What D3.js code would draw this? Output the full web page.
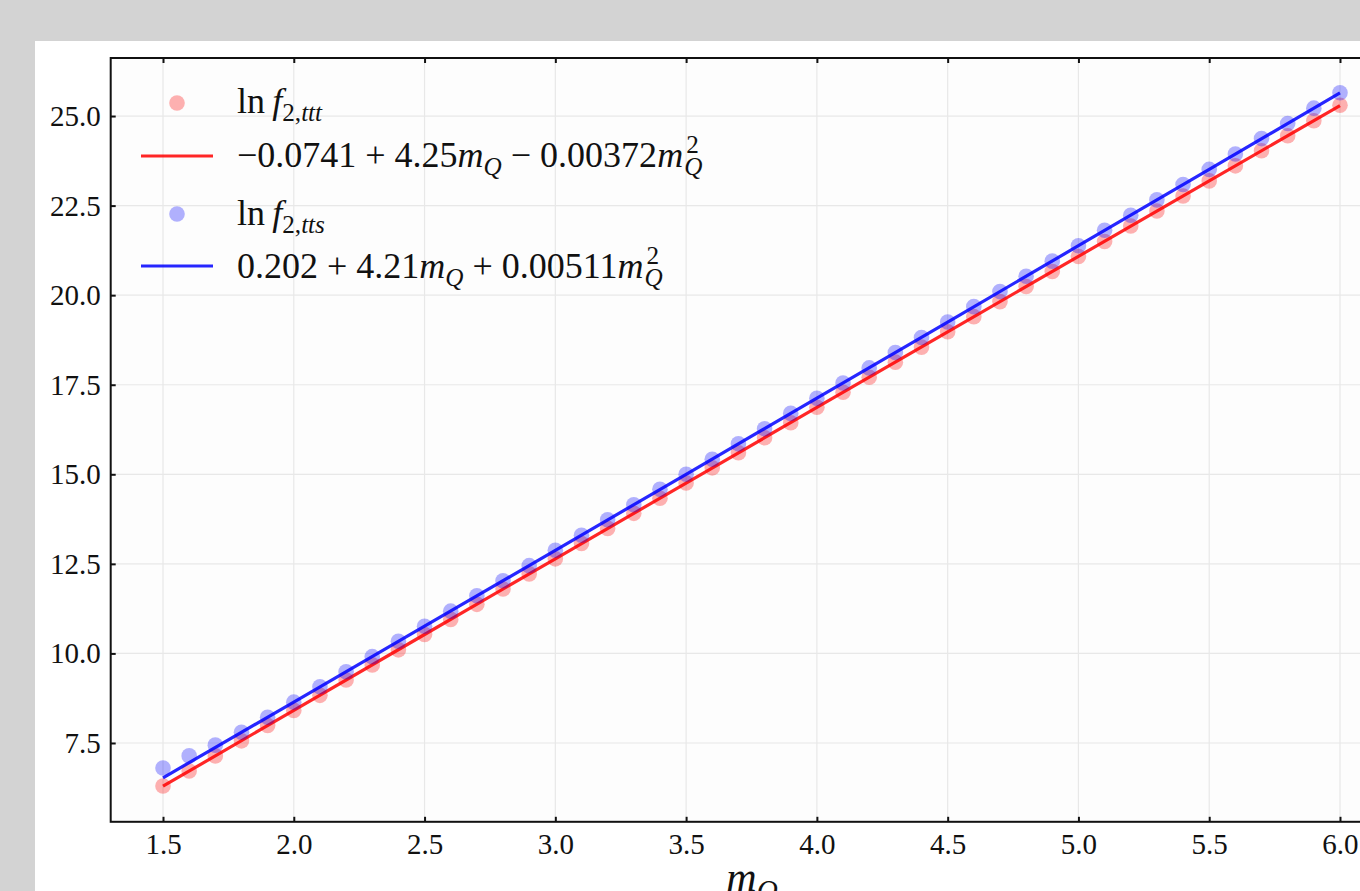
<!DOCTYPE html>
<html>
<head>
<meta charset="utf-8">
<script src="https://cdn.jsdelivr.net/npm/d3@7"></script>
<style>
  body { margin: 0; background: #d3d3d3; }
  svg { display: block; }
</style>
</head>
<body>
<svg id="chart" width="1360" height="891"></svg>
<script>
// data
var mQ = [1.5,1.6,1.7,1.8,1.9,2.0,2.1,2.2,2.3,2.4,2.5,2.6,2.7,2.8,2.9,3.0,3.1,3.2,3.3,3.4,3.5,3.6,3.7,3.8,3.9,
          4.0,4.1,4.2,4.3,4.4,4.5,4.6,4.7,4.8,4.9,5.0,5.1,5.2,5.3,5.4,5.5,5.6,5.7,5.8,5.9,6.0];
var lnTTT = [6.30,6.72,7.14,7.56,7.99,8.41,8.83,9.26,9.68,10.10,10.53,10.95,11.37,11.80,12.22,12.64,13.07,13.49,13.91,14.33,
             14.76,15.18,15.60,16.02,16.44,16.87,17.29,17.71,18.13,18.55,18.98,19.40,19.82,20.24,20.66,21.08,21.50,21.93,22.35,22.77,
             23.19,23.61,24.03,24.45,24.87,25.30];
var lnTTS = [6.80,7.14,7.44,7.80,8.22,8.64,9.07,9.49,9.91,10.34,10.76,11.18,11.61,12.03,12.45,12.88,13.30,13.73,14.15,14.58,
             15.00,15.42,15.85,16.27,16.70,17.12,17.55,17.97,18.40,18.82,19.25,19.68,20.10,20.53,20.95,21.38,21.81,22.23,22.66,23.09,
             23.51,23.94,24.37,24.79,25.22,25.65];
// fitted curves, sampled at half steps
var fitX = [1.5,2.0,2.5,3.0,3.5,4.0,4.5,5.0,5.5,6.0];
var fitTTT = [6.293,8.411,10.528,12.642,14.755,16.866,18.976,21.083,23.188,25.292];
var fitTTS = [6.529,8.642,10.759,12.878,15.000,17.124,19.250,21.380,23.512,25.646];
var xTicks = [1.5,2.0,2.5,3.0,3.5,4.0,4.5,5.0,5.5,6.0];
var yTicks = [7.5,10.0,12.5,15.0,17.5,20.0,22.5,25.0];

var svg = d3.select("#chart");
var serif = "'Liberation Serif', 'DejaVu Serif', serif";

// white figure panel
svg.append("rect").attr("x", 35).attr("y", 41).attr("width", 1325).attr("height", 850).attr("fill", "#ffffff");

var pL = 110.7, pR = 1392.3, pT = 58, pB = 821.8;
var x = d3.scaleLinear().domain([1.3, 6.2]).range([pL, pR]);
var y = d3.scaleLinear().domain([5.3, 26.62]).range([pB, pT]);

svg.append("rect").attr("x", pL).attr("y", pT).attr("width", pR - pL).attr("height", pB - pT)
  .attr("fill", "#fdfdfd");

svg.append("clipPath").attr("id", "clip").append("rect")
  .attr("x", pL).attr("y", pT).attr("width", pR - pL).attr("height", pB - pT);

// grid
svg.append("g").selectAll("line").data(xTicks).enter().append("line")
  .attr("x1", function(d){ return x(d); }).attr("x2", function(d){ return x(d); })
  .attr("y1", pT).attr("y2", pB)
  .attr("stroke", "#e8e8e8").attr("stroke-width", 1.2);
svg.append("g").selectAll("line").data(yTicks).enter().append("line")
  .attr("y1", function(d){ return y(d); }).attr("y2", function(d){ return y(d); })
  .attr("x1", pL).attr("x2", pR)
  .attr("stroke", "#e8e8e8").attr("stroke-width", 1.2);

var plot = svg.append("g").attr("clip-path", "url(#clip)");
var line = d3.line().x(function(d){ return x(d[0]); }).y(function(d){ return y(d[1]); });
var rDot = 7.8;

function drawSeries(vals, fit, col) {
  plot.append("g").selectAll("circle").data(vals).enter().append("circle")
    .attr("cx", function(d, i){ return x(mQ[i]); })
    .attr("cy", function(d){ return y(d); })
    .attr("r", rDot)
    .attr("fill", col).attr("fill-opacity", 0.3);
  plot.append("path").datum(d3.zip(fitX, fit))
    .attr("d", line).attr("fill", "none")
    .attr("stroke", col).attr("stroke-width", 3.2).attr("stroke-opacity", 0.85);
}
drawSeries(lnTTT, fitTTT, "#ff0000");
drawSeries(lnTTS, fitTTS, "#0000ff");

// axes with inward ticks
var xAxis = svg.append("g").attr("transform", "translate(0," + pB + ")")
  .call(d3.axisBottom(x).tickValues(xTicks).tickSizeInner(-5).tickSizeOuter(0).tickPadding(12).tickFormat(d3.format(".1f")));
var xTop = svg.append("g").attr("transform", "translate(0," + pT + ")")
  .call(d3.axisTop(x).tickValues(xTicks).tickSizeInner(-5).tickSizeOuter(0).tickFormat(""));
var yAxis = svg.append("g").attr("transform", "translate(" + pL + ",0)")
  .call(d3.axisLeft(y).tickValues(yTicks).tickSizeInner(-5).tickSizeOuter(0).tickPadding(10).tickFormat(d3.format(".1f")));
[xAxis, xTop, yAxis].forEach(function(g){
  g.select(".domain").remove();
  g.selectAll(".tick line").attr("stroke", "#111").attr("stroke-width", 2);
  g.selectAll("text").attr("font-family", serif).attr("font-size", 29).attr("fill", "#111");
});
xAxis.selectAll("text").attr("dy", "0.71em");
yAxis.selectAll("text").attr("dy", "0.33em");

// spines
svg.append("rect").attr("x", pL).attr("y", pT).attr("width", pR - pL).attr("height", pB - pT)
  .attr("fill", "none").attr("stroke", "#111").attr("stroke-width", 2);

// x label
var xl = svg.append("text").attr("x", 752).attr("y", 891).attr("text-anchor", "middle")
  .attr("font-family", serif).attr("font-size", 42).attr("fill", "#111");
xl.append("tspan").attr("font-style", "italic").text("m");
xl.append("tspan").attr("font-style", "italic").attr("font-size", 29).attr("dy", 9).text("Q");

// legend
var lg = svg.append("g");
var fs = 36;
function mathLabel(yb, parts) {
  var t = lg.append("text").attr("x", 237).attr("y", yb).attr("font-family", serif).attr("font-size", fs).attr("fill", "#111");
  parts.forEach(function(p){
    var s = t.append("tspan").text(p.t);
    if (p.i) s.attr("font-style", "italic");
    if (p.sub) s.attr("font-size", fs * 0.7);
    if (p.dy) s.attr("dy", p.dy);
  });
  return t;
}
function polyLabel(yb, parts) {
  var t = mathLabel(yb, parts);
  var w = t.node().getComputedTextLength();
  lg.append("text").attr("x", 237 + w + 1).attr("y", yb + 8).attr("font-family", serif)
    .attr("font-size", fs * 0.7).attr("font-style", "italic").attr("fill", "#111").text("Q");
  lg.append("text").attr("x", 237 + w + 3).attr("y", yb - 14).attr("font-family", serif)
    .attr("font-size", fs * 0.7).attr("fill", "#111").text("2");
}

lg.append("circle").attr("cx", 177).attr("cy", 103).attr("r", rDot).attr("fill", "#ff0000").attr("fill-opacity", 0.3);
mathLabel(113, [{t:"ln"}, {t:"\u2009f", i:1}, {t:"2,", sub:1, dy:8}, {t:"ttt", sub:1, i:1}]);

lg.append("line").attr("x1", 141).attr("x2", 213).attr("y1", 156).attr("y2", 156)
  .attr("stroke", "#ff0000").attr("stroke-opacity", 0.85).attr("stroke-width", 3.2);
polyLabel(167, [{t:"\u22120.0741 + 4.25"}, {t:"m", i:1}, {t:"Q", sub:1, i:1, dy:8}, {t:" \u2212 0.00372", dy:-8}, {t:"m", i:1}]);

lg.append("circle").attr("cx", 177).attr("cy", 214).attr("r", rDot).attr("fill", "#0000ff").attr("fill-opacity", 0.3);
mathLabel(225, [{t:"ln"}, {t:"\u2009f", i:1}, {t:"2,", sub:1, dy:8}, {t:"tts", sub:1, i:1}]);

lg.append("line").attr("x1", 141).attr("x2", 213).attr("y1", 266).attr("y2", 266)
  .attr("stroke", "#0000ff").attr("stroke-opacity", 0.85).attr("stroke-width", 3.2);
polyLabel(278, [{t:"0.202 + 4.21"}, {t:"m", i:1}, {t:"Q", sub:1, i:1, dy:8}, {t:" + 0.00511", dy:-8}, {t:"m", i:1}]);
</script>
</body>
</html>
